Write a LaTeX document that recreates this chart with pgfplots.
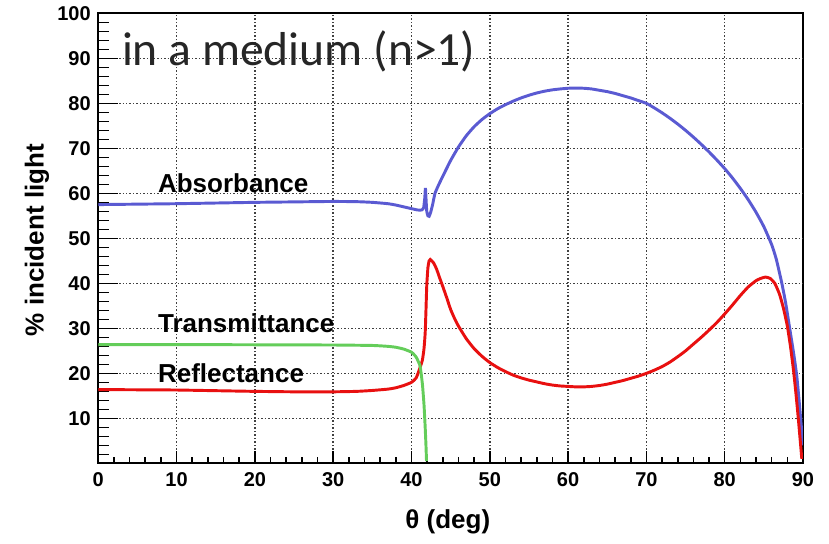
\documentclass[border=0pt]{standalone}
\usepackage{fontspec}
\setmainfont{Liberation Sans}
\newfontfamily\calib{Carlito}
\usepackage{pgfplots}
\pgfplotsset{compat=1.18}

\definecolor{absblue}{RGB}{90,90,210}
\definecolor{refred}{RGB}{232,16,16}
\definecolor{trgreen}{RGB}{100,205,90}

\tikzset{
    gridst/.style={black!75, line width=1.1pt, dash pattern=on 1.1pt off 1.5pt},
    tickst/.style={black, line width=1.2pt},
}

\begin{document}
\begin{tikzpicture}
% page frame (axis box is 528.5pt x 337.5pt, lower left at the origin)
\path (-73.7pt,-59.8pt) rectangle (548pt,347.5pt);

\begin{axis}[
    scale only axis,
    width=528.5pt, height=337.5pt,
    xmin=0, xmax=90, ymin=0, ymax=100,
    xtick={0,10,...,90},
    ytick={0,10,...,100},
    yticklabels={,10,20,30,40,50,60,70,80,90,100},
    tick pos=left, tick align=inside,
    major tick length=9pt,
    tick style={black, line width=1.2pt},
    axis line style={line width=1.5pt},
    /pgf/number format/assume math mode=true,
    ticklabel style={font=\bfseries\fontsize{15}{15}\selectfont},
    xticklabel style={anchor=north, inner sep=0pt, yshift=-6.5pt},
    yticklabel style={anchor=east, inner sep=0pt, xshift=-5.5pt},
    xlabel={θ (deg)},
    ylabel={\% incident light},
    xlabel style={at={(axis description cs:0.496,-0.1304)}, anchor=center, font=\bfseries\fontsize{19.5}{20}\selectfont},
    ylabel style={at={(axis description cs:-0.087,0.496)}, anchor=center, font=\bfseries\fontsize{19.5}{20}\selectfont},
]
% dotted grid and inward ticks, under the curves
\pgfplotsinvokeforeach{10,20,...,80}{
    \draw[gridst] (axis cs:#1,0) -- (axis cs:#1,100);
    \draw[tickst] (axis cs:#1,0) -- (axis cs:#1,2.667);
}
\pgfplotsinvokeforeach{10,20,...,90}{
    \draw[gridst] (axis cs:0,#1) -- (axis cs:90,#1);
    \draw[tickst] (axis cs:0,#1) -- (axis cs:2.554,#1);
}
\pgfplotsinvokeforeach{2,4,...,88}{
    \draw[tickst] (axis cs:#1,0) -- (axis cs:#1,1.333);
}
\pgfplotsinvokeforeach{2,4,...,98}{
    \draw[tickst] (axis cs:0,#1) -- (axis cs:1.362,#1);
}
% Absorbance
\addplot[absblue, line width=2.2pt, smooth, tension=0.3] coordinates {
    (0,57.5) (5,57.6) (10,57.7) (15,57.85) (20,58.0) (25,58.1) (30,58.2)
    (33,58.15) (35,58.0) (37,57.7) (38,57.4) (39,57.0) (40,56.6) (40.8,56.3)
    (41.3,56.3) (41.55,56.8) (41.7,59) (41.78,61.2) (41.85,59) (41.95,56)
    (42.1,55.0) (42.25,54.9) (42.45,55.8) (42.7,57.5) (43,60) (43.5,62)
    (44,63.8) (45,67.3) (46,70.3) (47,72.8) (48,74.8) (49,76.4) (50,77.7)
    (51,78.8) (52,79.7) (53,80.5) (54,81.2) (55,81.8) (56,82.3) (57,82.7)
    (58,83.0) (59,83.2) (60,83.35) (61,83.4) (62,83.35) (63,83.2) (64,82.9)
    (65,82.6) (66,82.2) (67,81.7) (68,81.2) (69,80.6) (70,80.0) (71,79.0)
    (72,77.9) (73,76.7) (74,75.4) (75,74.0) (76,72.5) (77,70.9) (78,69.2)
    (79,67.4) (80,65.5) (81,63.4) (82,61.1) (83,58.6) (84,55.8) (85,52.6)
    (86,48.6) (86.6,45.3) (87.3,40) (87.8,35.5) (88.3,30) (88.8,24.5)
    (89.2,19.5) (89.5,14) (89.7,10) (89.9,6) (90,4)
};
% Reflectance
\addplot[refred, line width=2.2pt, smooth, tension=0.3] coordinates {
    (0,16.4) (5,16.35) (10,16.3) (15,16.15) (20,16.0) (25,15.9) (30,15.9)
    (33,16.0) (35,16.2) (37,16.5) (38,16.8) (39,17.3) (40,18.0) (40.6,19.0)
    (41.1,21.3) (41.4,23.0) (41.6,25.5) (41.75,29) (41.85,34) (41.95,39.5)
    (42.1,43.5) (42.25,45.0) (42.4,45.3) (42.8,44.6) (43.2,43.2) (43.6,41.2)
    (44,39.3) (44.5,36.8) (45,34.2) (45.5,32.2) (46,30.5) (47,27.7)
    (48,25.5) (49,23.8) (50,22.4) (51,21.3) (52,20.4) (53,19.6) (54,19.0)
    (55,18.5) (56,18.1) (57,17.7) (58,17.4) (59,17.2) (60,17.1) (61,17.0)
    (62,17.0) (63,17.1) (64,17.3) (65,17.6) (66,18.0) (67,18.4) (68,18.9)
    (69,19.4) (70,20.0) (71,20.7) (72,21.5) (73,22.5) (74,23.7) (75,25.0)
    (76,26.5) (77,28.0) (78,29.6) (79,31.3) (80,33.2) (81,35.2) (82,37.3)
    (83,39.2) (84,40.6) (84.6,41.1) (85.2,41.4) (85.8,41.1) (86.4,40.0)
    (87,37.6) (87.5,34.5) (88,30.5) (88.4,26) (88.8,20.5) (89.1,15.5)
    (89.4,10) (89.65,5) (89.85,1)
};
% Transmittance
\addplot[trgreen, line width=2.2pt, smooth, tension=0.3] coordinates {
    (0,26.4) (10,26.4) (20,26.35) (30,26.3) (35,26.2) (37,26.0) (38,25.8)
    (39,25.4) (40,24.7) (40.6,23.6) (41.1,21.6) (41.4,17.5) (41.6,13)
    (41.75,8) (41.85,4) (41.92,0.5)
};

\node[anchor=base west, inner sep=0pt, font=\bfseries\fontsize{19.5}{20}\selectfont] at (axis cs:7.6,60.1) {Absorbance};
\node[anchor=base west, inner sep=0pt, font=\bfseries\fontsize{19.5}{20}\selectfont] at (axis cs:7.6,29.1) {Transmittance};
\node[anchor=base west, inner sep=0pt, font=\bfseries\fontsize{19.5}{20}\selectfont] at (axis cs:7.6,18.0) {Reflectance};
\node[anchor=base west, inner sep=0pt, text=black!85, font=\calib\fontsize{35.7}{40}\selectfont] at (axis cs:3.0,88.5) {in a medium (n>1)};
\end{axis}
\end{tikzpicture}
\end{document}
